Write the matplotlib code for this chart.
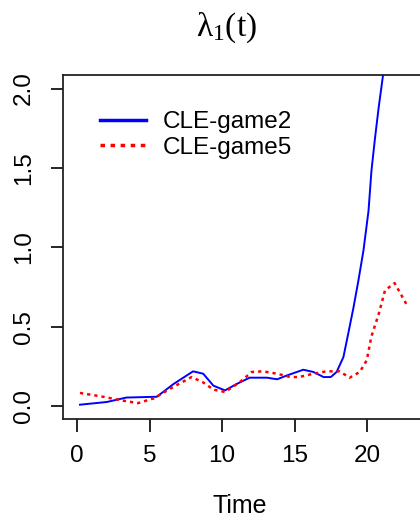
import matplotlib
matplotlib.use('Agg')
from matplotlib import pyplot as plt

plt.rcParams['font.family'] = ['Liberation Sans', 'DejaVu Sans']
plt.rcParams['mathtext.fontset'] = 'custom'
plt.rcParams['mathtext.rm'] = 'Liberation Serif'
plt.rcParams['mathtext.it'] = 'Liberation Serif'

# data
t_game2 = [0.2, 2.05, 3.4, 5.5, 6.65, 8.0, 8.7, 9.4, 10.2, 11.0, 11.9, 13.1,
           13.8, 14.5, 15.6, 16.3, 17.0, 17.5, 17.9, 18.37, 18.7, 19.06,
           19.4, 19.75, 20.1, 20.3, 20.55, 20.8, 21.08, 21.4]
v_game2 = [0.01, 0.027, 0.055, 0.06, 0.14, 0.22, 0.205, 0.13, 0.10, 0.14,
           0.18, 0.18, 0.17, 0.195, 0.23, 0.216, 0.184, 0.184, 0.216, 0.31,
           0.457, 0.62, 0.79, 0.98, 1.23, 1.48, 1.69, 1.88, 2.07, 2.28]

t_game5 = [0.2, 1.8, 3.2, 4.2, 5.3, 6.4, 7.9, 8.7, 9.4, 10.2, 11.2, 12.05,
           12.8, 13.8, 14.7, 15.3, 16.3, 17.2, 18.1, 18.8, 19.5, 19.98, 20.3,
           20.8, 21.24, 21.9, 22.3, 22.7]
v_game5 = [0.084, 0.06, 0.035, 0.02, 0.05, 0.11, 0.184, 0.15, 0.105, 0.09,
           0.15, 0.216, 0.22, 0.205, 0.184, 0.184, 0.205, 0.22, 0.22, 0.18,
           0.216, 0.29, 0.44, 0.58, 0.73, 0.775, 0.71, 0.645]

x_ticks = [0, 5, 10, 15, 20]
y_ticks = [0.0, 0.5, 1.0, 1.5, 2.0]

fig = plt.figure(figsize=(4.2, 5.22), dpi=100)
# plot box runs past the right edge of the picture, as in the reference
ax = fig.add_axes([63 / 420, 1 - 419 / 522, 380 / 420, 344 / 522])

ax.plot(t_game2, v_game2, color='blue', lw=1.4, label='CLE-game2')
ax.plot(t_game5, v_game5, color='red', lw=1.8, linestyle=(0, (1.3, 1.6)),
        label='CLE-game5')

ax.set_xlim(-0.97, -0.97 + 380 / 14.5)
ax.set_ylim(-0.08, 2.085)
ax.set_xticks(x_ticks)
ax.set_xticklabels([str(v) for v in x_ticks])
ax.set_yticks(y_ticks)
ax.set_yticklabels(['%.1f' % v for v in y_ticks], rotation=90, va='center')
ax.tick_params(length=9, width=1.2, labelsize=17.5, pad=10)
ax.tick_params(axis='y', pad=11)
ax.spines['right'].set_visible(False)
for s in ['left', 'top', 'bottom']:
    ax.spines[s].set_linewidth(1.3)
    ax.spines[s].set_color('#222222')

fig.text(240 / 420, 1 - 506 / 522, 'Time', ha='center', va='center',
         fontsize=18)
fig.text(226 / 420, 1 - 28 / 522, r'$\mathrm{\lambda}_1\mathrm{(t)}$',
         ha='center', va='center', fontsize=24)

leg = ax.legend(loc='upper left', bbox_to_anchor=(100 / 420, 1 - 111 / 522),
                bbox_transform=fig.transFigure, frameon=False, fontsize=17.5,
                handlelength=1.9, handletextpad=0.7, labelspacing=0.15,
                borderpad=0, borderaxespad=0)
leg.get_lines()[0].set_linewidth(2.5)
leg.get_lines()[1].set_linewidth(2.5)

plt.savefig('out.png', dpi=100)
